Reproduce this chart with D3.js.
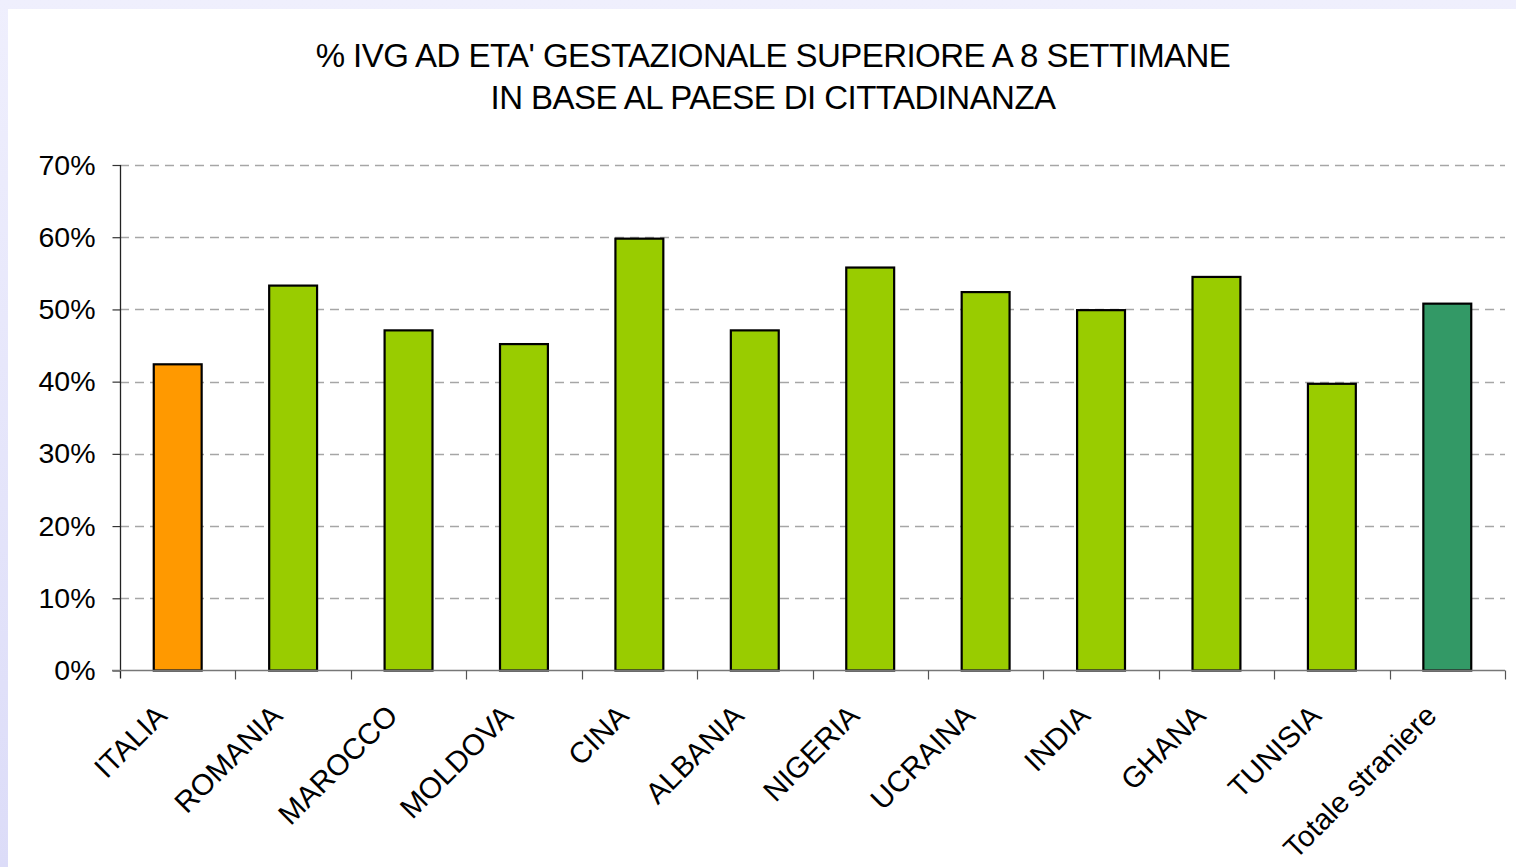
<!DOCTYPE html>
<html>
<head>
<meta charset="utf-8">
<script src="https://cdn.jsdelivr.net/npm/d3@7"></script>
<style>
  body { margin: 0; background: #fff; }
  svg { display: block; }
  text { font-family: 'Liberation Sans', Arial, sans-serif; fill: #000; }
</style>
</head>
<body>
<svg id="chart"></svg>
<script>
// data
const categories = ['ITALIA', 'ROMANIA', 'MAROCCO', 'MOLDOVA', 'CINA', 'ALBANIA',
                    'NIGERIA', 'UCRAINA', 'INDIA', 'GHANA', 'TUNISIA', 'Totale straniere'];
const values = [42.4, 53.3, 47.1, 45.2, 59.8, 47.1, 55.8, 52.4, 49.9, 54.5, 39.7, 50.8];
const barColors = ['#FF9900', '#99CC00', '#99CC00', '#99CC00', '#99CC00', '#99CC00',
                   '#99CC00', '#99CC00', '#99CC00', '#99CC00', '#99CC00', '#339966'];
const yTicks = [0, 10, 20, 30, 40, 50, 60, 70];
const titleLines = ["% IVG AD ETA' GESTAZIONALE SUPERIORE A 8 SETTIMANE",
                    'IN BASE AL PAESE DI CITTADINANZA'];

const width = 1516, height = 867;
const plotLeft = 120, plotRight = 1505, plotTop = 165, plotBottom = 670.5;

let svg = d3.select('#chart')
    .attr('width', width)
    .attr('height', height);

// lavender frame
let defs = svg.append('defs');
let grad = defs.append('linearGradient')
    .attr('id', 'frame')
    .attr('x1', 0).attr('y1', 0).attr('x2', 0).attr('y2', 1);
grad.append('stop').attr('offset', '0%').attr('stop-color', '#efeffd');
grad.append('stop').attr('offset', '100%').attr('stop-color', '#dcdcf8');

svg.append('rect')
    .attr('width', width).attr('height', height)
    .attr('fill', 'url(#frame)');
svg.append('rect')
    .attr('x', 8).attr('y', 9)
    .attr('width', width - 8).attr('height', height - 9)
    .attr('fill', '#fff');

// scales
let xScale = d3.scaleBand()
    .domain(categories)
    .range([plotLeft, plotRight])
    .paddingInner(0.585)
    .paddingOuter(0.2925);

let xBounds = d3.scaleLinear()
    .domain([0, categories.length])
    .range([plotLeft, plotRight]);

let yScale = d3.scaleLinear()
    .domain([0, 70])
    .range([plotBottom, plotTop]);

// title
svg.append('g')
    .selectAll('text')
    .data(titleLines)
    .enter()
    .append('text')
        .attr('x', 773)
        .attr('y', (d, i) => 67 + i * 42)
        .attr('text-anchor', 'middle')
        .style('font-size', '33px')
        .style('letter-spacing', '-0.55px')
        .text(d => d);

// gridlines
svg.append('g')
    .selectAll('line')
    .data(yTicks.filter(t => t > 0))
    .enter()
    .append('line')
        .attr('x1', plotLeft).attr('x2', plotRight)
        .attr('y1', d => Math.round(yScale(d)) + 0.5)
        .attr('y2', d => Math.round(yScale(d)) + 0.5)
        .attr('stroke', '#a6a6a6')
        .attr('stroke-width', 1.3)
        .attr('stroke-dasharray', '9,6');

// y axis
let yAxis = d3.axisLeft(yScale)
    .tickValues(yTicks)
    .tickFormat(d => d + '%')
    .tickSize(8)
    .tickSizeOuter(0)
    .tickPadding(17);

let yG = svg.append('g')
    .attr('transform', `translate(${plotLeft + 0.5},0)`)
    .call(yAxis);
yG.select('.domain').remove();
yG.selectAll('.tick line').attr('stroke', '#333').attr('stroke-width', 1.2);
yG.selectAll('.tick text')
    .style('font-size', '28.5px')
    .style('font-family', "'Liberation Sans', Arial, sans-serif");

yG.append('line')
    .attr('x1', 0).attr('x2', 0)
    .attr('y1', plotTop).attr('y2', plotBottom + 8)
    .attr('stroke', '#222').attr('stroke-width', 1.3);

// bars
svg.append('g')
    .selectAll('rect')
    .data(values)
    .enter()
    .append('rect')
        .attr('x', (d, i) => xScale(categories[i]))
        .attr('y', d => yScale(d))
        .attr('width', xScale.bandwidth())
        .attr('height', d => plotBottom - yScale(d))
        .attr('fill', (d, i) => barColors[i])
        .attr('stroke', '#000')
        .attr('stroke-width', 2.2);

// x axis line and ticks
let xG = svg.append('g');
xG.append('line')
    .attr('x1', plotLeft - 8).attr('x2', plotRight)
    .attr('y1', plotBottom).attr('y2', plotBottom)
    .attr('stroke', '#777').attr('stroke-width', 1.6);
xG.selectAll('.xtick')
    .data(d3.range(1, categories.length + 1))
    .enter()
    .append('line')
        .attr('class', 'xtick')
        .attr('x1', d => Math.round(xBounds(d)) + 0.5)
        .attr('x2', d => Math.round(xBounds(d)) + 0.5)
        .attr('y1', plotBottom).attr('y2', plotBottom + 9)
        .attr('stroke', '#555').attr('stroke-width', 1.2);

// category labels
xG.selectAll('.xlabel')
    .data(categories)
    .enter()
    .append('text')
        .attr('class', 'xlabel')
        .attr('text-anchor', 'end')
        .style('font-size', '29.5px')
        .attr('transform', d => {
            let cx = xScale(d) + xScale.bandwidth() / 2 - 9;
            return `translate(${cx},${plotBottom + 47}) rotate(-45)`;
        })
        .text(d => d);
</script>
</body>
</html>
